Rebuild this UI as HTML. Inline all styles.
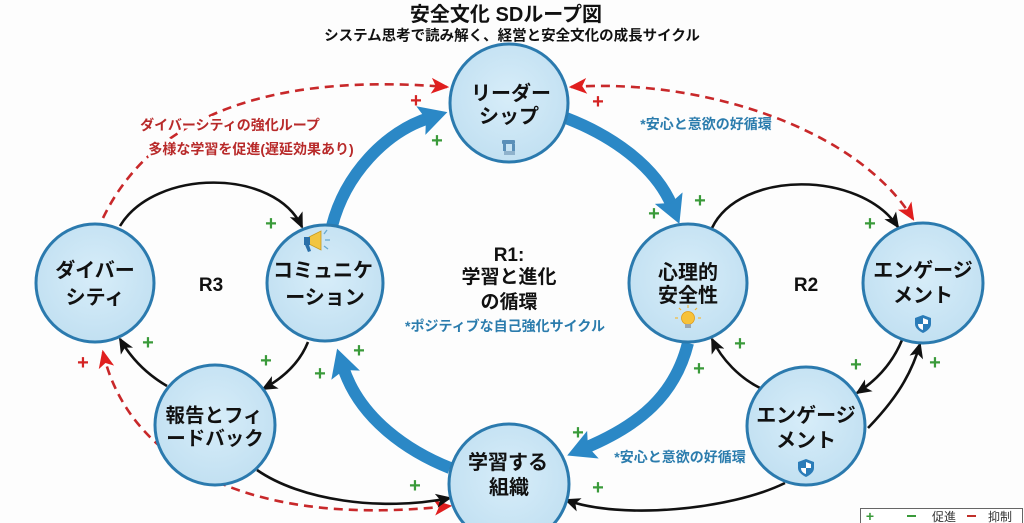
<!DOCTYPE html>
<html><head><meta charset="utf-8"><style>
html,body{margin:0;padding:0;background:#fdfdfd;}
svg{display:block;}
text{font-family:"Liberation Sans","Noto Sans CJK JP",sans-serif;}
</style></head><body>
<svg width="1024" height="523" viewBox="0 0 1024 523" xmlns="http://www.w3.org/2000/svg">
<defs>
<radialGradient id="nf" cx="50%" cy="45%" r="60%">
<stop offset="0" stop-color="#d7edf9"/><stop offset="1" stop-color="#c0dff1"/>
</radialGradient>
<marker id="mb" markerUnits="userSpaceOnUse" markerWidth="30" markerHeight="30" viewBox="0 0 26 28" refX="8" refY="14" orient="auto">
<path d="M0,0 L26,14 L0,28 L5,14 Z" fill="#2b88c6"/>
</marker>
<marker id="mk" markerUnits="userSpaceOnUse" markerWidth="16" markerHeight="16" viewBox="0 0 16 14" refX="14" refY="7" orient="auto">
<path d="M0,0 L16,7 L0,14 L4,7 Z" fill="#111"/>
</marker>
<marker id="mr" markerUnits="userSpaceOnUse" markerWidth="18" markerHeight="18" viewBox="0 0 16 14" refX="14" refY="7" orient="auto-start-reverse">
<path d="M0,0 L16,7 L0,14 L4,7 Z" fill="#e01e1e"/>
</marker>
</defs>
<rect width="1024" height="523" fill="#fdfdfd"/>

<!-- title -->
<text x="506" y="21" font-size="20" font-weight="700" text-anchor="middle" fill="#111">安全文化 SDループ図</text>
<text x="512" y="40.5" font-size="14.5" font-weight="700" text-anchor="middle" fill="#111">システム思考で読み解く、経営と安全文化の成長サイクル</text>

<!-- red dashed -->
<path d="M103,218 C160,100 300,75 447,87" fill="none" stroke="#c8282a" stroke-width="2.6" stroke-dasharray="9 6" marker-end="url(#mr)"/>
<path d="M571,87 C695,78 855,125 913,219" fill="none" stroke="#c8282a" stroke-width="2.6" stroke-dasharray="9 6" marker-start="url(#mr)" marker-end="url(#mr)"/>
<path d="M103,352 C125,450 230,530 450,506" fill="none" stroke="#c8282a" stroke-width="2.6" stroke-dasharray="9 6" marker-start="url(#mr)" marker-end="url(#mr)"/>

<!-- black arrows -->
<g fill="none" stroke="#111" stroke-width="2.6">
<path d="M120,226 C155,168 275,168 302,227" marker-end="url(#mk)"/>
<path d="M308,342 C300,362 285,377 263,389" marker-end="url(#mk)"/>
<path d="M167,386 C148,375 132,360 120,339" marker-end="url(#mk)"/>
<path d="M257,470 C300,500 380,512 450,498" marker-end="url(#mk)"/>
<path d="M712,228 C740,170 860,170 898,227" marker-end="url(#mk)"/>
<path d="M760,388 C740,378 722,360 712,339" marker-end="url(#mk)"/>
<path d="M902,340 C893,362 877,380 857,393" marker-end="url(#mk)"/>
<path d="M868,428 C890,405 910,380 920,344" marker-end="url(#mk)"/>
<path d="M785,483 C730,510 620,520 566,500" marker-end="url(#mk)"/>
</g>

<!-- blue thick arrows -->
<g fill="none" stroke="#2b88c6" stroke-width="12">
<path d="M332,226 C345,175 385,132 429,118" marker-end="url(#mb)"/>
<path d="M566,118 C610,135 655,165 672,206" marker-end="url(#mb)"/>
<path d="M688,343 C675,395 640,425 585,448" marker-end="url(#mb)"/>
<path d="M450,468 C410,452 360,420 343,367" marker-end="url(#mb)"/>
</g>

<!-- nodes -->
<g fill="url(#nf)" stroke="#2b7aae" stroke-width="3">
<circle cx="509" cy="103" r="59"/>
<circle cx="95" cy="283" r="59"/>
<circle cx="325" cy="283" r="58"/>
<circle cx="215" cy="425" r="60"/>
<circle cx="509" cy="484" r="60"/>
<circle cx="688" cy="283" r="59"/>
<circle cx="923" cy="283" r="60"/>
<circle cx="806" cy="426" r="59"/>
</g>

<!-- node labels -->
<g font-size="20" font-weight="700" text-anchor="middle" fill="#111">
<text x="511" y="100">リーダー</text>
<text x="509" y="123">シップ</text>
<text x="95" y="277">ダイバー</text>
<text x="95" y="304">シティ</text>
<text x="323" y="277">コミュニケ</text>
<text x="325" y="304">ーション</text>
<text x="214" y="422" font-size="19.5">報告とフィ</text>
<text x="215" y="445" font-size="19.5">ードバック</text>
<text x="508" y="469">学習する</text>
<text x="509" y="494">組織</text>
<text x="688" y="279">心理的</text>
<text x="688" y="302">安全性</text>
<text x="923" y="277">エンゲージ</text>
<text x="923" y="302">メント</text>
<text x="806" y="422">エンゲージ</text>
<text x="806" y="447">メント</text>
</g>

<!-- loop labels -->
<g font-weight="700" text-anchor="middle" fill="#111">
<text x="211" y="291" font-size="19">R3</text>
<text x="806" y="291" font-size="19">R2</text>
<text x="509" y="261" font-size="19">R1:</text>
<text x="509" y="283" font-size="19">学習と進化</text>
<text x="509" y="308" font-size="19">の循環</text>
</g>
<g font-size="14" font-weight="700" text-anchor="middle" fill="#2b7cad">
<text x="505" y="331">*ポジティブな自己強化サイクル</text>
<text x="706" y="129">*安心と意欲の好循環</text>
<text x="680" y="462">*安心と意欲の好循環</text>
</g>

<g font-size="14" font-weight="700" text-anchor="middle" fill="#b82a2a" stroke="#fdfdfd" stroke-width="6" paint-order="stroke" stroke-linejoin="round">
<text x="230" y="130">ダイバーシティの強化ループ</text>
<text x="251" y="154">多様な学習を促進(遅延効果あり)</text>
</g>

<!-- plus signs -->
<g font-size="20" font-weight="700" text-anchor="middle" fill="#3a9a3a">
<text x="437" y="147">+</text>
<text x="271" y="230">+</text>
<text x="148" y="349">+</text>
<text x="266" y="367">+</text>
<text x="359" y="357">+</text>
<text x="320" y="380">+</text>
<text x="415" y="492">+</text>
<text x="578" y="439">+</text>
<text x="598" y="494">+</text>
<text x="654" y="220">+</text>
<text x="700" y="207">+</text>
<text x="870" y="230">+</text>
<text x="740" y="350">+</text>
<text x="699" y="375">+</text>
<text x="856" y="371">+</text>
<text x="935" y="369">+</text>
</g>
<g font-size="20" font-weight="700" text-anchor="middle" fill="#d42424">
<text x="416" y="107">+</text>
<text x="598" y="108">+</text>
<text x="83" y="369">+</text>
</g>

<!-- icons -->
<g fill="#5a8fb8">
<rect x="502" y="140" width="13" height="4" rx="1"/>
<rect x="503" y="144" width="3" height="7"/>
<rect x="512" y="144" width="3" height="7"/>
<rect x="504" y="151" width="11" height="4" fill="#8fb2cc"/>
</g>
<g>
<path d="M309,237 L321,231 L321,250 L309,244 Z" fill="#f2c541" stroke="#c79a20" stroke-width="0.8"/>
<path d="M304,237 L310,237 L310,245 L304,245 Z" fill="#2a6fa8"/>
<path d="M305,245 L308,252 L311,251 L309,245 Z" fill="#2a6fa8"/>
<g stroke="#6aaad0" stroke-width="1.3">
<line x1="324" y1="234" x2="327" y2="230"/>
<line x1="325" y1="240" x2="330" y2="240"/>
<line x1="324" y1="246" x2="328" y2="249"/>
</g>
</g>
<g>
<circle cx="688" cy="318" r="6.5" fill="#f7c23a" stroke="#e09b18" stroke-width="0.8"/>
<rect x="685" y="324" width="6" height="4" fill="#9aa6b0"/>
<g stroke="#f2b83a" stroke-width="1.2">
<line x1="678" y1="318" x2="675" y2="318"/>
<line x1="698" y1="318" x2="701" y2="318"/>
<line x1="681" y1="310" x2="679" y2="308"/>
<line x1="695" y1="310" x2="697" y2="308"/>
<line x1="688" y1="308" x2="688" y2="305"/>
</g>
</g>
<g>
<path d="M923,315 L931,318 L931,324 C931,328 927,331 923,333 C919,331 915,328 915,324 L915,318 Z" fill="#2b7cb8"/>
<path d="M923,318 L928,320 L928,324 L923,324 Z M923,324 L918,324 C918,327 920,329 923,330 Z" fill="#fff"/>
</g>
<g transform="translate(-117,144)">
<path d="M923,315 L931,318 L931,324 C931,328 927,331 923,333 C919,331 915,328 915,324 L915,318 Z" fill="#2b7cb8"/>
<path d="M923,318 L928,320 L928,324 L923,324 Z M923,324 L918,324 C918,327 920,329 923,330 Z" fill="#fff"/>
</g>

<!-- legend -->
<rect x="860.5" y="508.5" width="162" height="20" fill="#fff" stroke="#666" stroke-width="1"/>
<text x="870" y="521" font-size="14" font-weight="700" text-anchor="middle" fill="#3a9a3a">+</text>
<rect x="907" y="515" width="9" height="2" fill="#3a9a3a"/>
<text x="932" y="521" font-size="12" fill="#333">促進</text>
<rect x="967" y="515" width="9" height="2" fill="#c0302a"/>
<text x="988" y="521" font-size="12" fill="#333">抑制</text>
</svg>
</body></html>
